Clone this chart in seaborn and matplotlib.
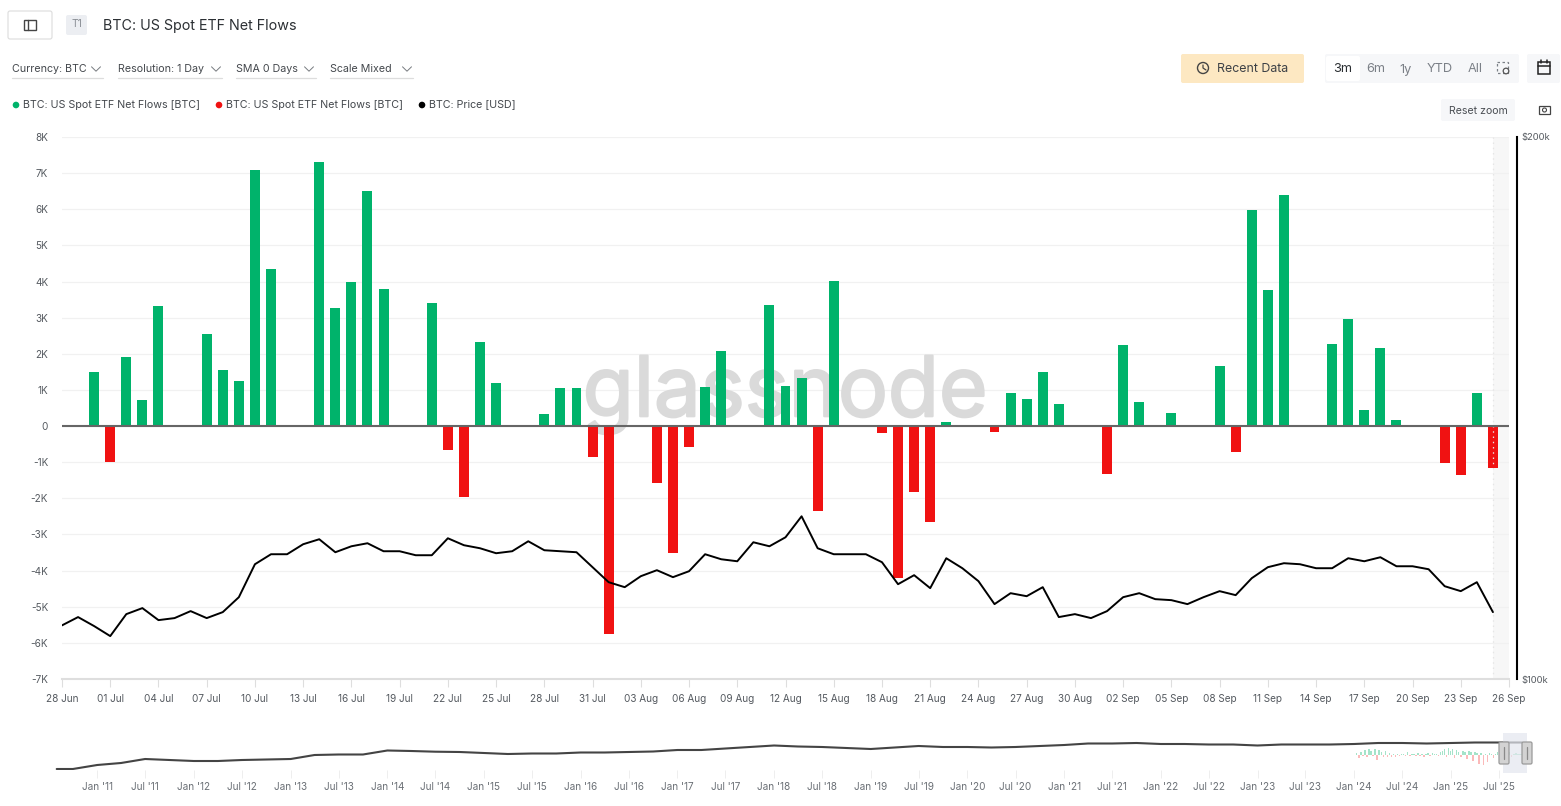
import numpy as np
import pandas as pd
import matplotlib
matplotlib.use("Agg")
import matplotlib.pyplot as plt
import matplotlib.dates as mdates
import matplotlib.patheffects as pe
from matplotlib.patches import Rectangle, FancyBboxPatch, Circle
from matplotlib.ticker import NullFormatter, NullLocator
import seaborn as sns

# ─── DATA ────────────────────────────────────────────────────────────────────
start_day = "2025-06-28"

flows = [0, 0, 1500, -1000, 1900, 720, 3330, 0, 0, 2550, 1560, 1250, 7100, 4350, 0,
         0, 7300, 3270, 4000, 6500, 3800, 0, 0, 3400, -670, -1970, 2330, 1200, 0, 0,
         330, 1050, 1050, -850, -5750, 0, 0, -1580, -3500, -570, 1080, 2080, 0, 0, 3350,
         1100, 1330, -2350, 4020, 0, 0, -190, -4200, -1830, -2650, 120, 0, 0, -170, 920,
         750, 1500, 600, 0, 0, -1330, 2250, 670, 0, 360, 0, 0, 1650, -720, 5980,
         3760, 6400, 0, 0, 2280, 2970, 450, 2170, 170, 0, 0, -1030, -1350, 920, -1150]

price = [107100, 108240, 107000, 105640, 108650, 109490, 107820, 108100, 109070, 108100,
         108930, 111030, 115810, 117300, 117300, 118810, 119570, 117600, 118500, 118960,
         117750, 117750, 117150, 117150, 119720, 118660, 118200, 117450, 117750, 119260,
         117900, 117750, 117600, 115370, 113180, 112460, 114050, 114930, 113910, 114780,
         117300, 116550, 116250, 119110, 118500, 119870, 123130, 118200, 117300, 117300,
         117300, 116110, 112890, 114200, 112320, 116700, 115220, 113330, 110050, 111600,
         111170, 112460, 108240, 108650, 108100, 109070, 111030, 111600, 110750, 110610,
         110050, 111030, 111890, 111320, 113760, 115370, 115960, 115810, 115220, 115220,
         116700, 116250, 116850, 115510, 115510, 115070, 112600, 111890, 113180, 108930]

flow_ticks = [-7000, -6000, -5000, -4000, -3000, -2000, -1000, 0,
              1000, 2000, 3000, 4000, 5000, 6000, 7000, 8000]
flow_tick_labels = ["-7K", "-6K", "-5K", "-4K", "-3K", "-2K", "-1K", "0",
                    "1K", "2K", "3K", "4K", "5K", "6K", "7K", "8K"]
price_ticks = [100000, 200000]
price_tick_labels = ["$100k", "$200k"]
date_tick_labels = ["28 Jun", "01 Jul", "04 Jul", "07 Jul", "10 Jul", "13 Jul", "16 Jul",
                    "19 Jul", "22 Jul", "25 Jul", "28 Jul", "31 Jul", "03 Aug", "06 Aug",
                    "09 Aug", "12 Aug", "15 Aug", "18 Aug", "21 Aug", "24 Aug", "27 Aug",
                    "30 Aug", "02 Sep", "05 Sep", "08 Sep", "11 Sep", "14 Sep", "17 Sep",
                    "20 Sep", "23 Sep", "26 Sep"]

# navigator strip: quarterly level of the price line (height in strip units)
nav_quarters = ["2010-08-01", "2010-10-01"] + [
    f"{y}-{m:02d}-01" for y in range(2011, 2025) for m in (1, 4, 7, 10)
] + ["2025-01-01", "2025-04-01", "2025-07-01", "2025-09-26"]
nav_level = [1, 1, 5, 7, 11, 10, 9, 9, 10, 10.5, 11, 15, 15.5, 15.5, 19.5, 19, 18.3, 18,
             17, 16, 16.5, 16.5, 17.5, 17.5, 18, 18.5, 20, 20, 21.5, 23, 24.5, 23.5, 23, 22,
             21, 22.5, 24, 23, 23, 22.5, 23, 24, 25, 26.5, 26.5, 27, 26, 26, 25.5, 25.5,
             24.5, 25.5, 25.5, 25.5, 26, 27, 27, 26.5, 27, 27.5, 27.5, 27.5]
nav_flows = [2, -3, 3, -1, 5, -2, 6, 4, -1, 6, -5, 5, 3, -2, 4, -2, 2, -2, 1, -2,
             1, -1, 1, 1, -1, 3, -1, 1, 1, -1, 2, -1, 1, -2, 1, 2, -1, 2, 1, 1,
             -1, 3, 4, 6, -2, 7, 4, 6, -3, 5, 3, -2, 4, 3, -4, 4, 3, -6, 3, 2,
             -9, 2, -10, 1, -7, 2, 1, -3, 1, 3, 2, 3, 1, 2, -1, 3, -2, 1, 2, 1, 1, 1]
nav_tick_labels = [f"{m} '{y:02d}" for y in range(11, 26) for m in ("Jan", "Jul")]

GREEN = "#00b36b"
RED = "#f01212"
GRID = "#f1f1f1"
AXIS = "#dedede"
LABEL = "#555a60"

# ─── FIGURE ──────────────────────────────────────────────────────────────────
sns.set_theme(style="white")
plt.rcParams["font.family"] = ["Inter", "DejaVu Sans"]

W, H = 1561, 806
fig = plt.figure(figsize=(W / 100, H / 100), dpi=100)


def px_axes(x0, y0, x1, y1):
    return fig.add_axes([x0 / W, 1 - y1 / H, (x1 - x0) / W, (y1 - y0) / H])


dates = pd.date_range(start_day, periods=91)
day_num = mdates.date2num(dates)
df = pd.DataFrame({"day": day_num[:90], "flow": flows, "price": price})
df["sign"] = np.where(df["flow"] >= 0, "in", "out")
bars = df[df["flow"] != 0]

# ─── MAIN CHART ──────────────────────────────────────────────────────────────
ax = px_axes(62, 137, 1509, 679)
ax.set_axisbelow(True)
ax.axvspan(day_num[89], day_num[90], color="#f7f7f7", lw=0, zorder=0)
mark = ax.text(0.4997, 0.524, "glassnode", transform=ax.transAxes, ha="center", va="center",
               fontsize=60, color="#dadada", family="Inter", zorder=0.6)
mark.set_path_effects([pe.withStroke(linewidth=1.6, foreground="#dadada")])
sns.barplot(data=bars, x="day", y="flow", hue="sign", palette={"in": GREEN, "out": RED},
            dodge=False, native_scale=True, width=0.62, saturation=1, legend=False, ax=ax,
            edgecolor="none", linewidth=0, zorder=2)
ax.axhline(0, color="#666666", lw=1.5, zorder=3)
ax.axvline(day_num[89], color="#e6e6e6", lw=0.9, ls=(0, (1.2, 3)), zorder=2.5)

ax.set_xlim(day_num[0], day_num[90])
ax.set_ylim(-7000, 8000)
ax.set_xticks(day_num[::3])
ax.set_xticklabels(date_tick_labels, fontsize=7.2, color=LABEL)
ax.set_yticks(flow_ticks)
ax.set_yticklabels(flow_tick_labels, fontsize=7.2, color=LABEL)
ax.set_xlabel("")
ax.set_ylabel("")
ax.grid(axis="y", color=GRID, lw=0.9)
ax.grid(axis="x", visible=False)
ax.tick_params(axis="x", length=5.5, width=0.8, color=AXIS, pad=5, bottom=True)
ax.tick_params(axis="y", length=0, pad=10, left=False)
for side in ("top", "right", "left"):
    ax.spines[side].set_visible(False)
ax.spines["bottom"].set_color(AXIS)
ax.spines["bottom"].set_linewidth(1.5)

# price on its own log axis
ax2 = ax.twinx()
ax2.set_yscale("log")
sns.lineplot(data=df, x="day", y="price", color="black", lw=1.4, ax=ax2, zorder=4)
ax2.set_ylim(100000, 200000)
ax2.set_yticks(price_ticks)
ax2.set_yticklabels(price_tick_labels)
ax2.yaxis.set_minor_locator(NullLocator())
ax2.yaxis.set_minor_formatter(NullFormatter())
ax2.set_ylabel("")
ax2.set_xlabel("")
ax2.tick_params(axis="y", length=0, pad=3.5, right=False, labelsize=6.8, labelcolor=LABEL)
for side in ("top", "left", "bottom"):
    ax2.spines[side].set_visible(False)
ax2.spines["right"].set_position(("outward", 5.5))
ax2.spines["right"].set_color("black")
ax2.spines["right"].set_linewidth(1.5)
ax2.set_xlim(day_num[0], day_num[90])

# ─── NAVIGATOR ───────────────────────────────────────────────────────────────
nav_left = mdates.date2num(pd.Timestamp("2010-07-18"))
nav_right = mdates.date2num(pd.Timestamp("2025-10-15"))

nav_sel = px_axes(53, 735, 1527, 770)
nav_df = pd.DataFrame({"day": mdates.date2num(pd.to_datetime(nav_quarters)), "level": nav_level})
sns.lineplot(data=nav_df, x="day", y="level", color="#444444", lw=1.5, ax=nav_sel, zorder=3)
nav_sel.set_ylim(0, 35)
nav_sel.set_yticks([])
nav_sel.set_xlabel("")
nav_sel.set_ylabel("")
nav_sel.patch.set_visible(False)
for side in nav_sel.spines:
    nav_sel.spines[side].set_visible(False)

nav_bar = nav_sel.twinx()
nav_flow_days = np.linspace(mdates.date2num(pd.Timestamp("2024-01-11")),
                            mdates.date2num(pd.Timestamp("2025-09-26")), len(nav_flows))
nav_flow_df = pd.DataFrame({"day": nav_flow_days, "flow": nav_flows})
nav_flow_df["sign"] = np.where(nav_flow_df["flow"] >= 0, "in", "out")
sns.barplot(data=nav_flow_df, x="day", y="flow", hue="sign",
            palette={"in": "#a5e3c9", "out": "#fbb9b9"}, dodge=False, native_scale=True,
            width=0.7, saturation=1, legend=False, edgecolor="none", linewidth=0, ax=nav_bar)
nav_bar.set_ylim(-15, 20)
nav_bar.set_yticks([])
nav_bar.set_xlabel("")
nav_bar.set_ylabel("")
nav_bar.patch.set_visible(False)
for side in nav_bar.spines:
    nav_bar.spines[side].set_visible(False)

# shared x axis: ticks go on last, the bar call above touches them
nav_ticks = mdates.date2num(pd.to_datetime([f"{y}-{m}-01" for y in range(2011, 2026) for m in ("01", "07")]))
nav_sel.set_xlim(nav_left, nav_right)
nav_sel.set_xticks(nav_ticks)
nav_sel.set_xticklabels(nav_tick_labels, fontsize=7.2, color="#6b7076")
nav_sel.tick_params(axis="x", length=5.8, width=0.7, color="#eeeeee", pad=2.5, bottom=True, labelbottom=True)

# ─── PAGE CHROME (pixel coordinates) ─────────────────────────────────────────
ui = fig.add_axes([0, 0, 1, 1], zorder=10)
ui.set_xlim(0, W)
ui.set_ylim(H, 0)
ui.axis("off")
ui.patch.set_visible(False)


def box(x0, y0, x1, y1, fc, ec="none", lw=0.8, round_px=2, z=1):
    ui.add_patch(FancyBboxPatch((x0 + round_px, y0 + round_px), x1 - x0 - 2 * round_px,
                                y1 - y0 - 2 * round_px,
                                boxstyle=f"round,pad={round_px},rounding_size={round_px}",
                                fc=fc, ec=ec, lw=lw, zorder=z))


def label(x, y, s, size=8, color="#3d4146", ha="left", z=5):
    ui.text(x, y + 1, s, fontsize=size, color=color, ha=ha, va="center", zorder=z)


def chevron(x, y):
    ui.plot([x - 4.5, x, x + 4.5], [y - 2.2, y + 2.2, y - 2.2], color="#777b80", lw=0.7, zorder=5)


# top left
box(8, 11, 52, 39, "white", "#dcdcdc")
ui.add_patch(Rectangle((24, 20), 12, 10, fc="none", ec="#444444", lw=1))
ui.plot([28, 28], [20, 30], color="#444444", lw=1)
box(66, 15, 87, 35, "#eceef2")
label(77, 23, "T1", 7.5, "#8a8e94", ha="center")
label(103, 25, "BTC: US Spot ETF Net Flows", 10.3, "#2b2f33")

# filters
filter_labels = ["Currency: BTC", "Resolution: 1 Day", "SMA 0 Days", "Scale Mixed"]
filter_x = [12, 118, 236, 330]
filter_chev = [96, 216, 309, 407]
filter_end = [103, 222, 316, 413]
for s, x0, xc, x1 in zip(filter_labels, filter_x, filter_chev, filter_end):
    label(x0, 67.5, s, 7.7, "#44484d")
    chevron(xc, 69)
    ui.plot([x0, x1], [78, 78], color="#dddddd", lw=0.9)

# legend
legend_labels = ["BTC: US Spot ETF Net Flows [BTC]", "BTC: US Spot ETF Net Flows [BTC]", "BTC: Price [USD]"]
legend_colors = [GREEN, RED, "black"]
legend_x = [16, 219, 422]
for s, c, x0 in zip(legend_labels, legend_colors, legend_x):
    ui.add_patch(Circle((x0, 105), 3.3, fc=c, ec="none"))
    label(x0 + 7, 103.5, s, 7.7, "#44484d")

# top right
box(1181, 54, 1304, 83, "#fde8c2")
ui.add_patch(Circle((1203, 68), 5.5, fc="none", ec="#444444", lw=1))
ui.plot([1203, 1203, 1206], [65, 68, 70], color="#444444", lw=0.9)
label(1217, 68, "Recent Data", 8.9)
box(1325, 54, 1519, 83, "#f6f7f9")
box(1326, 56, 1360, 81, "white", z=2)
range_labels = ["3m", "6m", "1y", "YTD", "All"]
range_x = [1343, 1376, 1406, 1440, 1475]
for i, (s, x0) in enumerate(zip(range_labels, range_x)):
    label(x0, 68.5, s, 9.2, "#2b2f33" if i == 0 else "#7b8087", ha="center")
ui.add_patch(Rectangle((1497, 62), 11, 11, fc="none", ec="#7b8087", lw=0.9, ls=(0, (2, 2))))
ui.add_patch(Circle((1506, 71), 2.8, fc="#f6f7f9", ec="#555555", lw=0.9, zorder=3))
box(1527, 54, 1560, 83, "#f6f7f9")
ui.add_patch(Rectangle((1538, 62), 12, 12, fc="none", ec="#222222", lw=1.1, zorder=3))
ui.plot([1538, 1550], [66, 66], color="#222222", lw=1.1, zorder=3)
ui.plot([1541, 1541], [60, 63], color="#222222", lw=1.1, zorder=3)
ui.plot([1547, 1547], [60, 63], color="#222222", lw=1.1, zorder=3)
box(1441, 99, 1515, 121, "#f6f7f9")
label(1478, 109.5, "Reset zoom", 7.6, "#4a4e53", ha="center")
ui.add_patch(Rectangle((1539, 106), 11, 8, fc="none", ec="#444444", lw=0.9))
ui.add_patch(Circle((1544.5, 110), 2, fc="none", ec="#444444", lw=0.8))

# navigator selection and handles
ui.add_patch(Rectangle((1503, 733), 24, 40, fc="#e3e6ee", ec="none", alpha=0.7, zorder=2))
for x0 in (1499, 1522):
    box(x0, 742, x0 + 10, 764, "#d3d3d3", "#9a9a9a", lw=0.9, round_px=1.5, z=4)
    ui.plot([x0 + 5, x0 + 5], [747, 759], color="#8a8a8a", lw=0.9, zorder=5)

plt.savefig("out.png", dpi=100)
